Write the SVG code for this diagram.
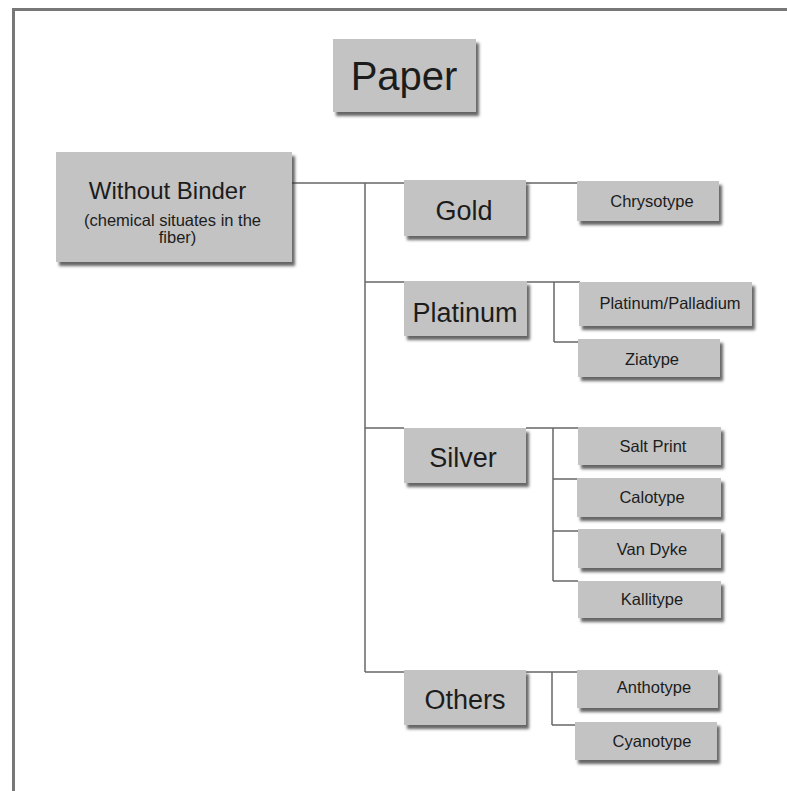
<svg xmlns="http://www.w3.org/2000/svg" width="787" height="791" viewBox="0 0 787 791">
<style>
.box{fill:#c3c3c3;filter:url(#sh);}
.t{font-family:"Liberation Sans",Arial,sans-serif;fill:#1c1c1c;text-anchor:middle;}
.big{font-size:40px;}
.mid{font-size:27px;}
.sm{font-size:16.5px;}
.conn line{stroke:#666;stroke-width:1.5;}
</style>
<defs>
<filter id="sh" x="-10%" y="-10%" width="130%" height="140%">
<feDropShadow dx="3" dy="4" stdDeviation="1.8" flood-color="#333" flood-opacity="0.75"/>
</filter>
</defs>
<rect width="787" height="791" fill="#fff"/>
<path d="M13.5 791 V9.5 H787" fill="none" stroke="#777" stroke-width="3"/>
<g id="connectors" class="conn">
<line x1="292" y1="183" x2="404" y2="183"/>
<line x1="365" y1="183" x2="365" y2="672"/>
<line x1="365" y1="282" x2="404" y2="282"/>
<line x1="365" y1="428" x2="404" y2="428"/>
<line x1="365" y1="672" x2="404" y2="672"/>
<line x1="526" y1="183" x2="577" y2="183"/>
<line x1="527" y1="282" x2="580" y2="282"/>
<line x1="554" y1="282" x2="554" y2="342"/>
<line x1="554" y1="342" x2="578" y2="342"/>
<line x1="526" y1="428" x2="578" y2="428"/>
<line x1="553" y1="428" x2="553" y2="581"/>
<line x1="553" y1="479" x2="578" y2="479"/>
<line x1="553" y1="531" x2="578" y2="531"/>
<line x1="553" y1="581" x2="578" y2="581"/>
<line x1="526" y1="672" x2="578" y2="672"/>
<line x1="552" y1="672" x2="552" y2="725"/>
<line x1="552" y1="725" x2="575" y2="725"/>
</g>
<g id="paper"><rect class="box" x="333" y="39" width="143" height="73"/><text class="t big" x="404" y="90">Paper</text></g>
<g id="without-binder"><rect class="box" x="56" y="152" width="236" height="110"/>
<text class="t" x="167.5" y="199" font-size="24">Without Binder</text>
<text class="t" x="172.5" y="226" font-size="16.5">(chemical situates in the</text>
<text class="t" x="177.5" y="243" font-size="16.5">fiber)</text></g>
<g id="gold"><rect class="box" x="404" y="180" width="122" height="56"/><text class="t mid" x="464" y="220">Gold</text></g>
<g id="platinum"><rect class="box" x="404" y="281" width="123" height="55"/><text class="t mid" x="465" y="322">Platinum</text></g>
<g id="silver"><rect class="box" x="404" y="428" width="122" height="55"/><text class="t mid" x="463" y="467">Silver</text></g>
<g id="others"><rect class="box" x="404" y="670" width="122" height="55"/><text class="t mid" x="465" y="709">Others</text></g>
<g id="chrysotype"><rect class="box" x="577" y="181" width="142" height="40"/><text class="t sm" x="652" y="207">Chrysotype</text></g>
<g id="platinum-palladium"><rect class="box" x="579" y="282" width="173" height="44"/><text class="t sm" x="670" y="309">Platinum/Palladium</text></g>
<g id="ziatype"><rect class="box" x="578" y="339" width="142" height="38"/><text class="t sm" x="652" y="365">Ziatype</text></g>
<g id="salt-print"><rect class="box" x="578" y="427" width="143" height="38"/><text class="t sm" x="653" y="452">Salt Print</text></g>
<g id="calotype"><rect class="box" x="577" y="478" width="144" height="39"/><text class="t sm" x="652" y="503">Calotype</text></g>
<g id="van-dyke"><rect class="box" x="578" y="529" width="143" height="39"/><text class="t sm" x="652" y="555">Van Dyke</text></g>
<g id="kallitype"><rect class="box" x="578" y="581" width="143" height="37"/><text class="t sm" x="652" y="605">Kallitype</text></g>
<g id="anthotype"><rect class="box" x="577" y="670" width="141" height="38"/><text class="t sm" x="654" y="693">Anthotype</text></g>
<g id="cyanotype"><rect class="box" x="575" y="722" width="142" height="38"/><text class="t sm" x="652" y="747">Cyanotype</text></g>
</svg>
